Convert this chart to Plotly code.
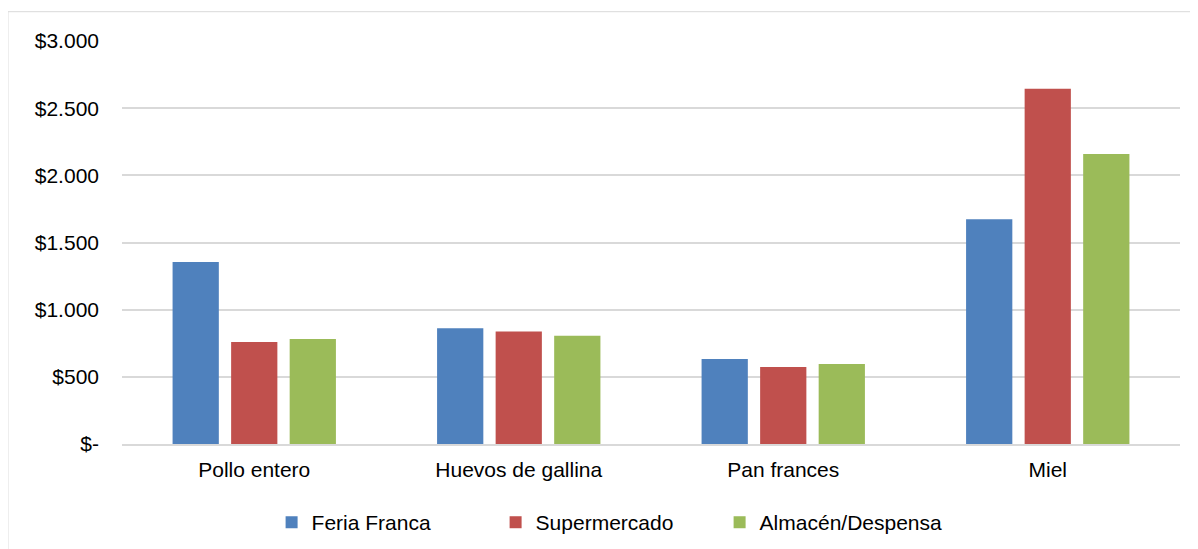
import plotly.graph_objects as go

# datos
productos = ["Pollo entero", "Huevos de gallina", "Pan frances", "Miel"]
feria_franca = [1355, 861, 633, 1673]
supermercado = [759, 838, 573, 2645]
almacen = [782, 806, 596, 2159]

y_ticks = [0, 500, 1000, 1500, 2000, 2500, 3000]
y_labels = ["$-", "$500", "$1.000", "$1.500", "$2.000", "$2.500", "$3.000"]

series = [
    ("Feria Franca", feria_franca, "#4F81BD"),
    ("Supermercado", supermercado, "#C0504D"),
    ("Almacén/Despensa", almacen, "#9BBB59"),
]

FONT = "Liberation Sans, Arial, Helvetica, sans-serif"

fig = go.Figure()
for name, vals, color in series:
    fig.add_trace(go.Bar(
        x=productos,
        y=vals,
        name=name,
        marker=dict(color=color, line=dict(width=0)),
    ))

# la página añade 8 px de margen al body, se compensa aquí
fig.update_layout(
    width=1190,
    height=541,
    margin=dict(l=114, r=18, t=33, b=105, autoexpand=False),
    paper_bgcolor="white",
    plot_bgcolor="white",
    font=dict(family=FONT, size=21, color="#000000"),
    barmode="group",
    bargap=0.336,
    bargroupgap=0.21,
    showlegend=True,
    legend=dict(
        orientation="h",
        x=0.1414,
        xanchor="left",
        y=-0.195,
        yanchor="middle",
        font=dict(size=21),
        entrywidth=179,
        itemwidth=30,
    ),
    # marco exterior del gráfico
    shapes=[dict(
        type="rect", xref="paper", yref="paper",
        x0=-0.1078, x1=1.2, y0=-0.6, y1=1.0727,
        line=dict(color="#D9D9D9", width=1),
        fillcolor="rgba(0,0,0,0)",
        layer="below",
    )],
)

fig.update_xaxes(
    automargin=False,
    showgrid=False,
    showline=True,
    linecolor="#D9D9D9",
    linewidth=1.5,
    ticks="",
    ticklabelstandoff=6,
    tickfont=dict(size=21),
)
fig.update_yaxes(
    automargin=False,
    range=[0, 3000],
    tickvals=y_ticks,
    ticktext=y_labels,
    showgrid=True,
    gridcolor="#D9D9D9",
    gridwidth=1.5,
    zeroline=False,
    showline=False,
    ticks="",
    ticklabelstandoff=22,
    tickfont=dict(size=21),
)

fig.write_html("out.html")
